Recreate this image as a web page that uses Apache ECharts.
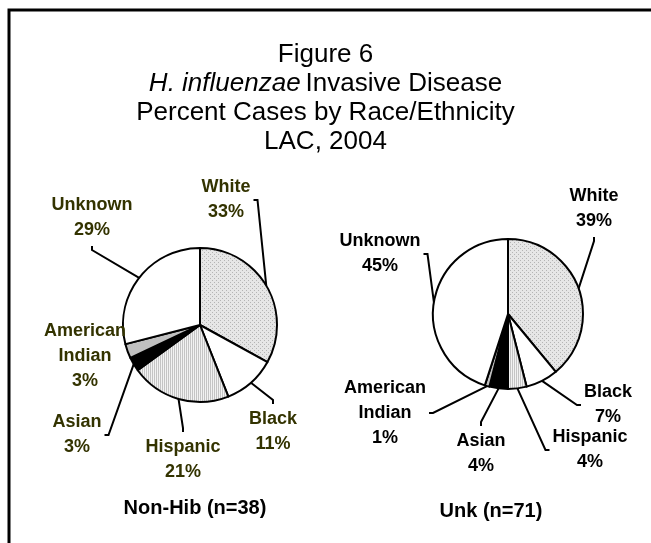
<!DOCTYPE html>
<html>
<head>
<meta charset="utf-8">
<script src="https://cdn.jsdelivr.net/npm/echarts@6/dist/echarts.min.js"></script>
<style>
  html, body { margin: 0; padding: 0; background: #fff; }
  #chart { width: 651px; height: 543px; }
</style>
</head>
<body>
<div id="chart"></div>
<script>
const races = ['White', 'Black', 'Hispanic', 'Asian', 'American Indian', 'Unknown']
const nonHibPct = [33, 11, 21, 3, 3, 29]
const unkPct = [39, 7, 4, 4, 1, 45]
const pieNames = ['Non-Hib (n=38)', 'Unk (n=71)']

// label centres for each slice, per pie
const labelPos = [
  [[226, 200], [273, 432], [183, 460], [77, 435], [85, 356], [92, 218]],
  [[594, 209], [608, 405], [590, 450], [481, 454], [385, 413], [380, 254]]
]
// which side of the label the leader line ends on
const lineSide = [
  ['r', 't', 't', 'r', null, 'b'],
  ['b', 'l', 'l', 't', 'r', 'r']
]

const FONT = 'Arial, "Liberation Sans", sans-serif'

function makePattern(w, h, bg, fg, pts) {
  const c = document.createElement('canvas')
  c.width = w
  c.height = h
  const ctx = c.getContext('2d')
  ctx.fillStyle = bg
  ctx.fillRect(0, 0, w, h)
  ctx.fillStyle = fg
  pts.forEach(p => ctx.fillRect(p[0], p[1], 1, 1))
  return { image: c, repeat: 'repeat' }
}

const dots = makePattern(4, 4, '#e6e6e6', '#b4b4b4', [[0, 0], [2, 2]])
const stripes = makePattern(2, 1, '#f2f2f2', '#c4c4c4', [[0, 0]])
const sliceColors = [dots, '#ffffff', stripes, '#000000', '#c0c0c0', '#ffffff']

function makeLayout(si) {
  return function (p) {
    const [x, y] = labelPos[si][p.dataIndex]
    const side = lineSide[si][p.dataIndex]
    const w = p.labelRect.width
    const h = p.labelRect.height
    const start = p.labelLinePoints ? p.labelLinePoints[0] : [x, y]
    let a = [x, y], b = [x, y]
    if (side === 'r') { a = [x + w / 2 + 7, y]; b = [x + w / 2 + 3, y] }
    if (side === 'l') { a = [x - w / 2 - 7, y]; b = [x - w / 2 - 3, y] }
    if (side === 't') { a = [x, y - h / 2 - 7]; b = [x, y - h / 2 - 3] }
    if (side === 'b') { a = [x, y + h / 2 + 7]; b = [x, y + h / 2 + 3] }
    const pts = side ? [start, a, b] : [start, start, start]
    return {
      x: x,
      y: y,
      align: 'center',
      verticalAlign: 'middle',
      labelLinePoints: pts
    }
  }
}

function pieSeries(values, si, center, radius, textColor) {
  return {
    type: 'pie',
    center: center,
    radius: radius,
    startAngle: 90,
    clockwise: true,
    silent: true,
    avoidLabelOverlap: false,
    data: races.map((r, i) => ({
      name: r,
      value: values[i],
      itemStyle: { color: sliceColors[i] }
    })),
    itemStyle: { borderColor: '#000', borderWidth: 2 },
    label: {
      show: true,
      position: 'outside',
      formatter: p => p.name.replace(' ', '\n') + '\n' + p.value + '%',
      fontFamily: FONT,
      fontWeight: 'bold',
      fontSize: 18,
      lineHeight: 25,
      color: textColor
    },
    labelLine: {
      show: true,
      lineStyle: { color: '#000', width: 2 }
    },
    labelLayout: makeLayout(si)
  }
}

const chart = echarts.init(document.getElementById('chart'))

const option = {
  backgroundColor: '#fff',
  animation: false,
  title: {
    left: 'center',
    top: 40,
    // extra left padding nudges the centred block slightly right
    padding: [0, 0, 0, 13],
    text: '{n|Figure 6}\n{i|H. influenzae} {n|Invasive Disease}\n{n|Percent Cases by Race/Ethnicity}\n{n|LAC, 2004}',
    textStyle: {
      fontWeight: 'normal',
      rich: {
        n: { fontFamily: FONT, fontSize: 26, lineHeight: 29, fontWeight: 'normal', color: '#000' },
        i: { fontFamily: FONT, fontSize: 26, lineHeight: 29, fontWeight: 'normal', fontStyle: 'italic', color: '#000' }
      }
    }
  },
  graphic: [
    {
      type: 'rect',
      shape: { x: 9, y: 10, width: 700, height: 600 },
      style: { fill: 'none', stroke: '#000', lineWidth: 3 },
      silent: true
    },
    {
      type: 'text',
      x: 195,
      y: 508,
      style: {
        text: pieNames[0],
        textAlign: 'center',
        textVerticalAlign: 'middle',
        font: 'bold 20px ' + FONT,
        fill: '#000'
      }
    },
    {
      type: 'text',
      x: 491,
      y: 511,
      style: {
        text: pieNames[1],
        textAlign: 'center',
        textVerticalAlign: 'middle',
        font: 'bold 20px ' + FONT,
        fill: '#000'
      }
    }
  ],
  series: [
    pieSeries(nonHibPct, 0, [200, 325], 77, '#333300'),
    pieSeries(unkPct, 1, [508, 314], 75, '#000')
  ]
}

chart.setOption(option)
</script>
</body>
</html>
